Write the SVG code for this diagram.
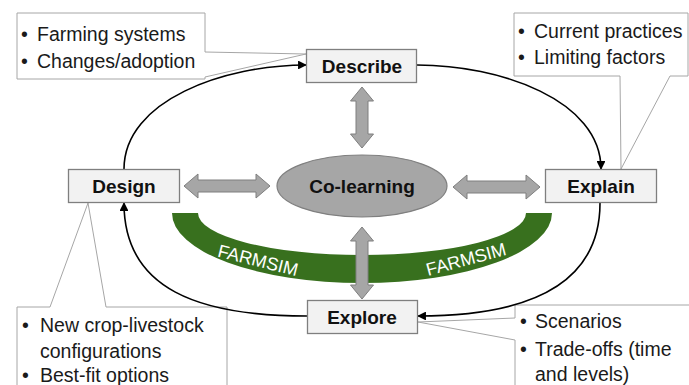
<svg xmlns="http://www.w3.org/2000/svg" width="689" height="385" viewBox="0 0 689 385">
  <style>
    .box { fill: #f2f2f2; stroke: #7f7f7f; stroke-width: 1.3; }
    .label { font-family: "Liberation Sans", Arial, sans-serif; font-weight: bold; font-size: 19px; fill: #111; text-anchor: middle; }
    .callout { fill: #ffffff; stroke: #a6a6a6; stroke-width: 1; }
    .note { font-family: "Liberation Sans", Arial, sans-serif; font-size: 19.5px; fill: #1a1a1a; }
    .cycle { fill: none; stroke: #000; stroke-width: 1.6; marker-end: url(#head); }
    .dbl { fill: #a6a6a6; stroke: #7f7f7f; stroke-width: 1; }
    .sim { font-family: "Liberation Sans", Arial, sans-serif; font-size: 18px; fill: #ffffff; text-anchor: middle; }
  </style>
  <defs>
    <marker id="head" viewBox="0 0 10 10" refX="9" refY="5" markerWidth="5.5" markerHeight="5.5" orient="auto" markerUnits="strokeWidth">
      <path d="M0,0 L10,5 L0,10 Z" fill="#000"/>
    </marker>
  </defs>

  <rect width="689" height="385" fill="#ffffff"/>

  <!-- FARMSIM modelling band -->
  <g id="farmsim">
    <path d="M172,213 A190,70 0 0 0 552,213 L526,213 A164,42 0 0 1 198,213 Z" fill="#38701e"/>
    <text class="sim" transform="translate(258,260) rotate(14)" dy="6.5">FARMSIM</text>
    <text class="sim" transform="translate(466,259) rotate(-15)" dy="6.5">FARMSIM</text>
  </g>

  <!-- callout boxes -->
  <g id="note-describe">
    <path class="callout" d="M17,13 H205 V52 L306,54 L205,77 V79 H17 Z"/>
    <text class="note"><tspan x="21" y="41">•</tspan><tspan x="37" y="41">Farming systems</tspan></text>
    <text class="note"><tspan x="21" y="68">•</tspan><tspan x="37" y="68">Changes/adoption</tspan></text>
  </g>
  <g id="note-explain">
    <path class="callout" d="M514,13 H688 V76 H670 L621,169 L620,76 H514 Z"/>
    <text class="note"><tspan x="518" y="38">•</tspan><tspan x="534" y="38">Current practices</tspan></text>
    <text class="note"><tspan x="518" y="64">•</tspan><tspan x="534" y="64">Limiting factors</tspan></text>
  </g>
  <g id="note-design">
    <path class="callout" d="M17,307 H50 L88,203 L106,307 H227 V392 H17 Z"/>
    <text class="note"><tspan x="22" y="332">•</tspan><tspan x="40" y="332">New crop-livestock</tspan></text>
    <text class="note" x="40" y="358">configurations</text>
    <text class="note"><tspan x="22" y="382">•</tspan><tspan x="40" y="382">Best-fit options</tspan></text>
  </g>
  <g id="note-explore">
    <path class="callout" d="M515,305 H692 V392 H515 V340 L418,322 L515,318 Z"/>
    <text class="note"><tspan x="520" y="328">•</tspan><tspan x="535" y="328">Scenarios</tspan></text>
    <text class="note"><tspan x="520" y="356">•</tspan><tspan x="535" y="356">Trade-offs (time</tspan></text>
    <text class="note" x="535" y="381">and levels)</text>
  </g>

  <!-- cycle connectors and two-way links -->
  <g id="connectors">
    <path class="cycle" d="M124,169 C124,100 225,65 306,65"/>
    <path class="cycle" d="M417,65 C500,65 601,100 601,169"/>
    <path class="cycle" d="M600,203 C600,290 520,316 418,316"/>
    <path class="cycle" d="M307,316 C200,316 124,290 124,203"/>

    <polygon class="dbl" points="362,87 373.5,101 368,101 368,134 373.5,134 362,148 350.5,134 356,134 356,101 350.5,101"/>
    <polygon class="dbl" points="362,227 373.5,241 368,241 368,285 373.5,285 362,299 350.5,285 356,285 356,241 350.5,241"/>
    <polygon class="dbl" points="184,186 198,174 198,180 256,180 256,174 270,186 256,198 256,192 198,192 198,198"/>
    <polygon class="dbl" points="453,187 467,175 467,181 526,181 526,175 540,187 526,199 526,193 467,193 467,199"/>
  </g>

  <!-- stage nodes -->
  <g id="describe">
    <rect class="box" x="306.5" y="49.5" width="110" height="33"/>
    <text class="label" x="362" y="72.5">Describe</text>
  </g>
  <g id="explain">
    <rect class="box" x="545.5" y="169.5" width="111" height="33"/>
    <text class="label" x="601" y="193">Explain</text>
  </g>
  <g id="explore">
    <rect class="box" x="307.5" y="300.5" width="110" height="33"/>
    <text class="label" x="362" y="324">Explore</text>
  </g>
  <g id="design">
    <rect class="box" x="68.5" y="169.5" width="111" height="33"/>
    <text class="label" x="124" y="193">Design</text>
  </g>
  <g id="co-learning">
    <ellipse cx="362" cy="186" rx="85" ry="31" fill="#a6a6a6" stroke="#7f7f7f" stroke-width="1.2"/>
    <text class="label" x="362" y="193">Co-learning</text>
  </g>
</svg>
